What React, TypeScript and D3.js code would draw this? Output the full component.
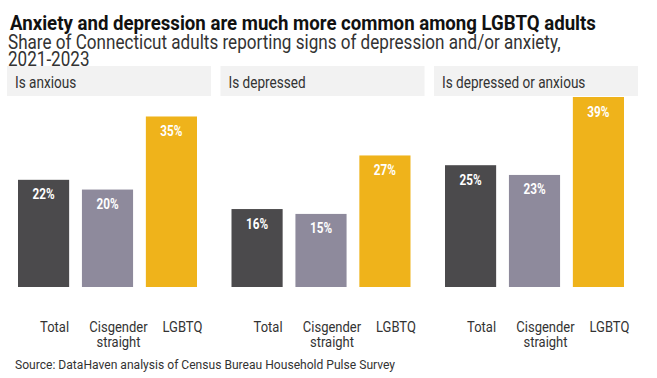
import React from "react";
import * as d3 from "d3";

const panels = ["Is anxious", "Is depressed", "Is depressed or anxious"];
const groups = ["Total", "Cisgender straight", "LGBTQ"];
const groupLines = [["Total"], ["Cisgender", "straight"], ["LGBTQ"]];
const anxiousValues = [22, 20, 35];
const depressedValues = [16, 15, 27];
const eitherValues = [25, 23, 39];
const seriesValues = [anxiousValues, depressedValues, eitherValues];
const colors = ["#4b4a4c", "#8e8a9c", "#efb31b"];

const W = 657;
const H = 378;
const FONT = "Roboto, 'Noto Sans', sans-serif";
const SX = 0.84;

function CText(props: any) {
  const { x, y, anchor = "start", size, weight = 400, fill = "#333", children, sx = SX } = props;
  return (
    <text
      transform={`translate(${x},${y}) scale(${sx},1)`}
      textAnchor={anchor}
      fontFamily={FONT}
      fontSize={size}
      fontWeight={weight}
      fill={fill}
    >
      {children}
    </text>
  );
}

export default function App() {
  const panelX = d3.scaleBand<string>().domain(panels).range([7, 638]).paddingInner(0.0445);
  const barX = d3.scaleBand<string>().domain(groups).range([11, 190]).paddingInner(0.2);
  const y = d3.scaleLinear().domain([0, 39]).range([287, 97]);

  return (
    <svg width={W} height={H} style={{ position: "absolute", left: 0, top: 0, background: "#fff" }}>
      <CText x={10} y={30} size={20.5} weight={700} fill="#111" sx={0.91}>
        Anxiety and depression are much more common among LGBTQ adults
      </CText>
      <CText x={8} y={49} size={19.5} fill="#333" sx={0.876}>
        Share of Connecticut adults reporting signs of depression and/or anxiety,
      </CText>
      <CText x={8} y={66} size={19.5} fill="#333" sx={0.876}>
        2021-2023
      </CText>
      {panels.map((p, pi) => {
        const px = panelX(p)!;
        return (
          <g key={p}>
            <rect x={px} y={66} width={panelX.bandwidth()} height={30} fill="#f2f2f2" />
            <CText x={px + 8} y={87.5} size={16} fill="#333" sx={0.85}>
              {p}
            </CText>
            {groups.map((g, gi) => {
              const v = seriesValues[pi][gi];
              const bx = px + barX(g)!;
              const cx = bx + barX.bandwidth() / 2;
              return (
                <g key={g}>
                  <rect x={bx} y={y(v)} width={barX.bandwidth()} height={y(0) - y(v)} fill={colors[gi]} />
                  <CText x={cx} y={y(v) + 19.5} anchor="middle" size={14} weight={700} fill="#fff">
                    {`${v}%`}
                  </CText>
                  {groupLines[gi].map((line, li) => (
                    <CText key={line} x={cx + 11} y={332 + li * 14.5} anchor="middle" size={15.5} fill="#333">
                      {line}
                    </CText>
                  ))}
                </g>
              );
            })}
          </g>
        );
      })}
      <CText x={15} y={369} size={13} fill="#333" sx={0.93}>
        Source: DataHaven analysis of Census Bureau Household Pulse Survey
      </CText>
    </svg>
  );
}
